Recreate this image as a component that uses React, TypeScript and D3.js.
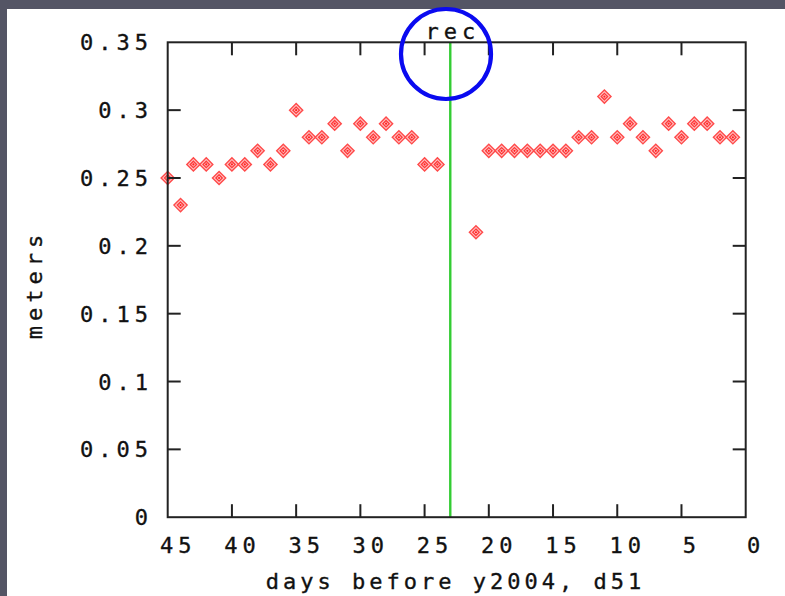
import React from "react";
import * as d3 from "d3";

const days: number[] = [
  45, 44, 43, 42, 41, 40, 39, 38, 37, 36, 35, 34, 33, 32, 31, 30, 29, 28, 27, 26, 25, 24,
  21, 20, 19, 18, 17, 16, 15, 14, 13, 12, 11, 10, 9, 8, 7, 6, 5, 4, 3, 2, 1,
];
const meters: number[] = [
  0.25, 0.23, 0.26, 0.26, 0.25, 0.26, 0.26, 0.27, 0.26, 0.27, 0.3, 0.28, 0.28, 0.29, 0.27, 0.29, 0.28, 0.29, 0.28, 0.28, 0.26, 0.26,
  0.21, 0.27, 0.27, 0.27, 0.27, 0.27, 0.27, 0.27, 0.28, 0.28, 0.31, 0.28, 0.29, 0.28, 0.27, 0.29, 0.28, 0.29, 0.29, 0.28, 0.28,
];
const xTicks: number[] = [45, 40, 35, 30, 25, 20, 15, 10, 5, 0];
const yTicks: number[] = [0, 0.05, 0.1, 0.15, 0.2, 0.25, 0.3, 0.35];
const yTickLabels: string[] = ["0", "0.05", "0.1", "0.15", "0.2", "0.25", "0.3", "0.35"];
const recDay = 23;
const recLabel = "rec";
const xTitle = "days before y2004, d51";
const yTitle = "meters";

const W = 785;
const H = 596;
const L = 167.7;
const R = 745.7;
const T = 42.3;
const B = 517.2;
const FONT = "'DejaVu Sans Mono', monospace";
const FS = 22;
const LS = 5;
const INK = "#111";

export default function App() {
  const x = d3.scaleLinear().domain([45, 0]).range([L, R]);
  const y = d3.scaleLinear().domain([0, 0.35]).range([B, T]);
  const tick = 13;
  const s = 6.6;
  const diamond = (h: number) => `M0,${-h}L${h},0L0,${h}L${-h},0Z`;
  const rx = x(recDay);
  const textProps = {
    fontFamily: FONT,
    fontSize: FS,
    letterSpacing: LS,
    fill: INK,
    stroke: INK,
    strokeWidth: 0.35,
  };

  return (
    <svg
      width={W}
      height={H}
      style={{ position: "fixed", left: 0, top: 0, display: "block" }}
    >
      <rect x={0} y={0} width={W} height={H} fill="#545565" />
      <rect x={7} y={9} width={W - 7} height={H - 9} fill="#ffffff" />

      {/* rec line */}
      <line x1={rx} x2={rx} y1={T} y2={B} stroke="#33cc33" strokeWidth={2.4} />

      {/* points */}
      {days.map((d, i) => (
        <g key={i} transform={`translate(${x(d)},${y(meters[i])})`}>
          <path d={diamond(s)} fill="#ffc4c4" stroke="#ff4a4a" strokeWidth={1.4} />
          <path d={diamond(3.2)} fill="none" stroke="#ff3a3a" strokeWidth={1.3} />
          <circle r={1.1} fill="#ff2222" />
        </g>
      ))}

      {/* frame */}
      <rect x={L} y={T} width={R - L} height={B - T} fill="none" stroke="#222" strokeWidth={2} />

      {/* x ticks */}
      {xTicks.map((t) => (
        <g key={"xt" + t}>
          {t !== 45 && t !== 0 && (
            <>
              <line x1={x(t)} x2={x(t)} y1={B} y2={B - tick} stroke="#222" strokeWidth={2} />
              <line x1={x(t)} x2={x(t)} y1={T} y2={T + tick} stroke="#222" strokeWidth={2} />
            </>
          )}
          <text x={x(t) + 8 + LS / 2} y={553} textAnchor="middle" {...textProps}>
            {String(t)}
          </text>
        </g>
      ))}

      {/* y ticks */}
      {yTicks.map((t, i) => (
        <g key={"yt" + i}>
          {t !== 0 && t !== 0.35 && (
            <>
              <line x1={L} x2={L + tick} y1={y(t)} y2={y(t)} stroke="#222" strokeWidth={2} />
              <line x1={R} x2={R - tick} y1={y(t)} y2={y(t)} stroke="#222" strokeWidth={2} />
            </>
          )}
          <text x={148 + LS} y={y(t) + 8} textAnchor="end" {...textProps}>
            {yTickLabels[i]}
          </text>
        </g>
      ))}

      {/* rec label */}
      <text x={rx + LS / 2} y={38.5} textAnchor="middle" {...textProps}>
        {recLabel}
      </text>

      {/* axis titles */}
      <text x={453 + LS / 2} y={589} textAnchor="middle" {...textProps} letterSpacing={LS - 1}>
        {xTitle}
      </text>
      <text
        transform={`translate(42,${282 + LS / 2}) rotate(-90)`}
        textAnchor="middle"
        {...textProps}
      >
        {yTitle}
      </text>

      {/* highlight circle */}
      <circle cx={446} cy={54} r={45} fill="none" stroke="#0a0af0" strokeWidth={4.2} />
    </svg>
  );
}
